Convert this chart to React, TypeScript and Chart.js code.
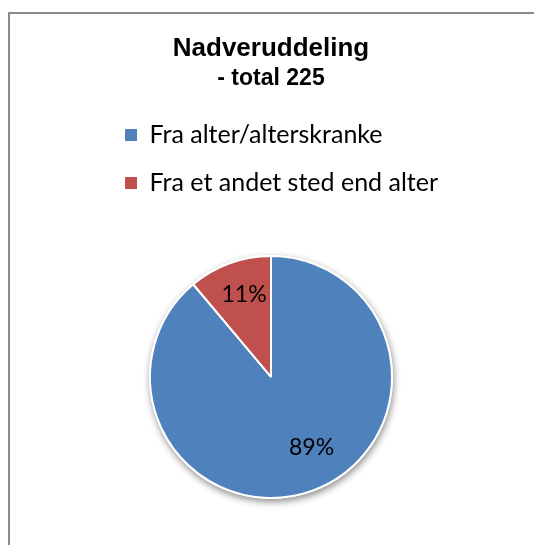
import React, { useEffect, useRef } from "react";
import { Chart, registerables } from "chart.js";

Chart.register(...registerables);

const categories = ["Fra alter/alterskranke", "Fra et andet sted end alter"];
const counts = [200, 25];
const colors = ["#4F81BD", "#C0504D"];
const titleText = "Nadveruddeling";
const subtitleText = "- total 225";

const shadowPlugin = {
  id: "pieShadow",
  beforeDatasetsDraw(chart: any) {
    const arc = chart.getDatasetMeta(0).data[0];
    if (!arc) return;
    const { x, y, outerRadius } = arc.getProps(["x", "y", "outerRadius"], true);
    const ctx = chart.ctx;
    ctx.save();
    ctx.shadowColor = "rgba(0,0,0,0.45)";
    ctx.shadowBlur = 7;
    ctx.shadowOffsetX = 1;
    ctx.shadowOffsetY = 3;
    ctx.fillStyle = "#ffffff";
    ctx.beginPath();
    ctx.arc(x, y, outerRadius + 1, 0, Math.PI * 2);
    ctx.fill();
    ctx.restore();
  },
};

// label placement (best-fit like): angular nudge in degrees and radial fraction per slice
const pctLabelPlugin = {
  id: "pctLabels",
  afterDatasetsDraw(chart: any, _args: any, opts: any) {
    const meta = chart.getDatasetMeta(0);
    const data = chart.data.datasets[0].data as number[];
    const total = data.reduce((a, b) => a + b, 0);
    const ctx = chart.ctx;
    ctx.save();
    ctx.font = "23px Lato";
    ctx.fillStyle = "#000000";
    ctx.textAlign = "center";
    ctx.textBaseline = "middle";
    meta.data.forEach((el: any, i: number) => {
      const { x, y, startAngle, endAngle, outerRadius } = el.getProps(
        ["x", "y", "startAngle", "endAngle", "outerRadius"],
        true
      );
      const nudge = ((opts.nudge && opts.nudge[i]) || 0) * (Math.PI / 180);
      const frac = (opts.frac && opts.frac[i]) || 0.7;
      const mid = (startAngle + endAngle) / 2 + nudge;
      const r = outerRadius * frac;
      ctx.fillText(
        Math.round((data[i] / total) * 100) + "%",
        x + Math.cos(mid) * r,
        y + Math.sin(mid) * r
      );
    });
    ctx.restore();
  },
};

export default function App() {
  const ref = useRef<HTMLCanvasElement>(null);

  useEffect(() => {
    if (!ref.current) return;
    const defaultLabels = (Chart as any).overrides.pie.plugins.legend.labels.generateLabels;
    const chart = new Chart(ref.current, {
      type: "pie",
      data: {
        labels: categories,
        datasets: [
          {
            data: counts,
            backgroundColor: colors,
            borderColor: "#ffffff",
            borderWidth: 2,
            radius: 121,
            hoverOffset: 0,
          } as any,
        ],
      },
      options: {
        responsive: false,
        animation: false,
        layout: { padding: { top: 0, left: 92, right: 86, bottom: 1.5 } },
        plugins: {
          tooltip: { enabled: false },
          pctLabels: { nudge: [-10, 2], frac: [0.67, 0.72] },
          title: {
            display: true,
            text: titleText,
            color: "#000000",
            font: { family: "'Liberation Sans', Arial, sans-serif", size: 26, weight: "bold" },
            padding: { top: 19, bottom: 1 },
          },
          subtitle: {
            display: true,
            text: subtitleText,
            color: "#000000",
            font: { family: "'Liberation Sans', Arial, sans-serif", size: 23, weight: "bold" },
            padding: { top: 0, bottom: 6.6 },
          },
          legend: {
            position: "top",
            align: "start",
            fullSize: false,
            labels: {
              color: "#000000",
              font: { family: "Lato", size: 25 },
              boxWidth: 12,
              boxHeight: 12,
              padding: 23,
              generateLabels: (c: any) =>
                defaultLabels(c).map((l: any) => ({ ...l, lineWidth: 0 })),
            },
          },
        },
      } as any,
      plugins: [shadowPlugin, pctLabelPlugin],
    });
    return () => chart.destroy();
  }, []);

  return (
    <>
      <div
        style={{
          position: "fixed",
          left: 8,
          top: 12,
          right: 0,
          bottom: 0,
          boxSizing: "border-box",
          borderLeft: "2px solid #8c8c8c",
          borderTop: "2px solid #8c8c8c",
          background: "#ffffff",
        }}
      />
      <div style={{ position: "fixed", left: 10, top: 14 }}>
        <canvas ref={ref} width={516} height={536} style={{ display: "block" }} />
      </div>
    </>
  );
}
